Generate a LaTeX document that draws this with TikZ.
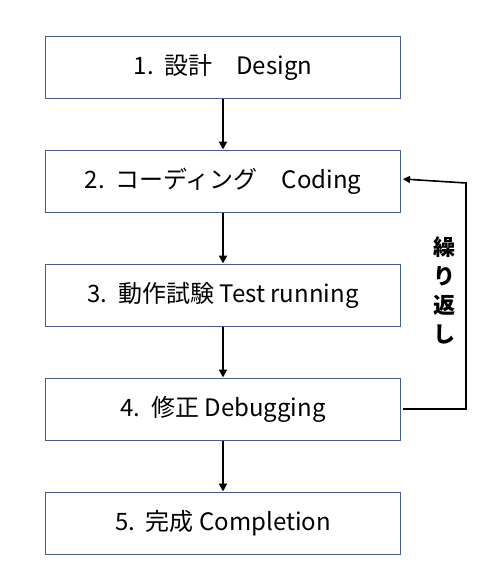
\documentclass[tikz,border=0pt]{standalone}
\usepackage{fontspec}
\setmainfont{Noto Sans CJK JP}
\usepackage{tikz}
\usetikzlibrary{arrows.meta}
\definecolor{boxline}{RGB}{68,94,150}

\begin{document}
\begin{tikzpicture}[x=1pt,y=-1pt,
    stepbox/.style={draw=boxline,line width=1pt,minimum width=355pt,minimum height=62pt,inner sep=0pt,font=\fontsize{24}{28}\selectfont},
    flow/.style={line width=2.3pt,-{Triangle[length=8pt,width=8pt]}},
    loop/.style={line width=1.6pt,-{Triangle[length=7pt,width=7pt]}}]
    \useasboundingbox (0,0) rectangle (500,581);
    \node[stepbox] (s1) at (223,67)  {1.\ \ 設計　Design};
    \node[stepbox] (s2) at (223,181) {2.\ \ コーディング　Coding};
    \node[stepbox] (s3) at (223,295) {3.\ \ 動作試験 Test running};
    \node[stepbox] (s4) at (223,409) {4.\ \ 修正 Debugging};
    \node[stepbox] (s5) at (223,523) {5.\ \ 完成 Completion};
    % arrows down
    \foreach \a/\b in {s1/s2,s2/s3,s3/s4,s4/s5}
    \draw[flow] (\a.south) -- (\b.north);
    % loop back
    \coordinate (c1) at (466,409);
    \coordinate (c2) at (466,183);
    \draw[loop] ([xshift=2pt]s4.east) -- (c1) -- (c2) -- ([xshift=2pt,yshift=2pt]s2.east);
    \node[font=\fontsize{22}{29}\selectfont\bfseries,align=center] (rep) at (444,290) {繰\\り\\返\\し};
\end{tikzpicture}
\end{document}
